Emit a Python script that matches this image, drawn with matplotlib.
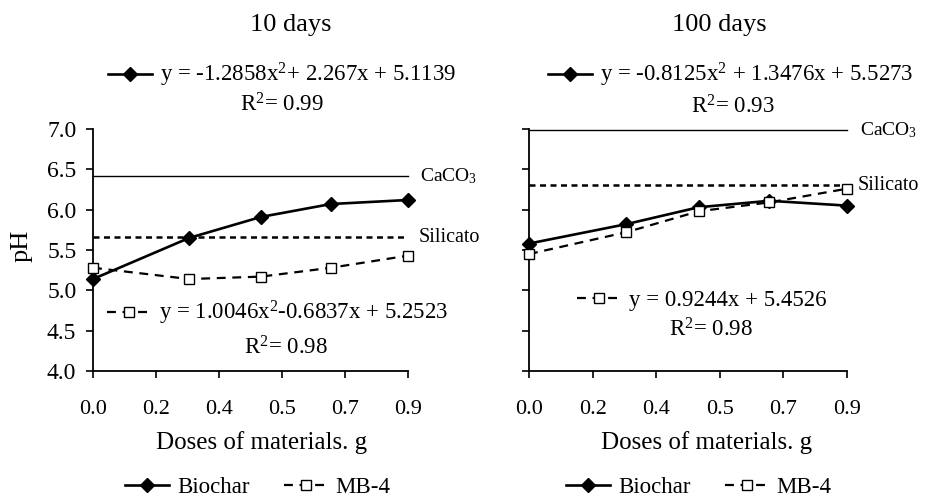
import matplotlib
matplotlib.use("Agg")
import matplotlib.pyplot as plt
from matplotlib.lines import Line2D

plt.rcParams['font.family'] = ['Liberation Serif', 'DejaVu Serif']
plt.rcParams['mathtext.default'] = 'regular'

# data
dose = [0, 0.275, 0.48, 0.68, 0.9]
biochar_10 = [5.14, 5.65, 5.91, 6.07, 6.12]
mb4_10 = [5.28, 5.14, 5.17, 5.28, 5.43]
biochar_100 = [5.58, 5.82, 6.03, 6.11, 6.05]
mb4_100 = [5.45, 5.72, 5.98, 6.09, 6.26]
caco3 = [6.42, 6.99]        # 10 days, 100 days
silicato = [5.66, 6.30]     # 10 days, 100 days
xtick_pos = [0, 0.18, 0.36, 0.54, 0.72, 0.9]
xtick_labels = ['0.0', '0.2', '0.4', '0.5', '0.7', '0.9']
ytick_pos = [4.0, 4.5, 5.0, 5.5, 6.0, 6.5, 7.0]
titles = ['10 days', '100 days']
eq_biochar = ['y = -1.2858x$^2$+ 2.267x + 5.1139', 'y = -0.8125x$^2$ + 1.3476x + 5.5273']
r2_biochar = ['R$^2$= 0.99', 'R$^2$= 0.93']
eq_mb4 = ['y = 1.0046x$^2$-0.6837x + 5.2523', 'y = 0.9244x + 5.4526']
r2_mb4 = ['R$^2$= 0.98', 'R$^2$= 0.98']

W, H = 929, 499
def fx(px):
    return px / W
def fy(py):
    return 1 - py / H

bio_style = dict(color='black', lw=1.9, marker='D', markersize=7, markerfacecolor='black')
mb4_style = dict(color='black', lw=1.6, dashes=(4, 3), marker='s', markersize=6.5,
                 markerfacecolor='white', markeredgecolor='black', markeredgewidth=1)

fig = plt.figure(figsize=(W / 100, H / 100), dpi=100)
ax1 = fig.add_axes([fx(93), fy(371), 315 / W, 242 / H])
ax2 = fig.add_axes([fx(529), fy(371), 318 / W, 242 / H])

panels = [(ax1, biochar_10, mb4_10), (ax2, biochar_100, mb4_100)]
for i, (ax, bio, mb4) in enumerate(panels):
    ax.plot([dose[0], dose[-1]], [caco3[i], caco3[i]], color='black', lw=1.0, clip_on=False)
    ax.plot([dose[0], dose[-1]], [silicato[i], silicato[i]], color='black', lw=1.8,
            dashes=(2.4, 1.8), clip_on=False)
    ax.plot(dose, mb4, clip_on=False, zorder=3, **mb4_style)
    ax.plot(dose, bio, clip_on=False, zorder=2, **bio_style)
    ax.annotate('CaCO$_3$', xy=(dose[-1], caco3[i]), xytext=(9, 0), textcoords='offset points',
                va='center', ha='left', fontsize=14)
    ax.annotate('Silicato', xy=(dose[-1], silicato[i]), xytext=(8, 0), textcoords='offset points',
                va='center', ha='left', fontsize=14.5)

    ax.set_xlim(0, 0.9)
    ax.set_ylim(4.0, 7.0)
    ax.set_xticks(xtick_pos)
    ax.set_xticklabels(xtick_labels)
    ax.set_yticks(ytick_pos)
    ax.set_yticklabels([f'{v:.1f}' for v in ytick_pos] if i == 0 else [])
    ax.tick_params(direction='out', length=5, width=1.2, labelsize=16)
    ax.tick_params(axis='y', labelsize=17, pad=7)
    ax.tick_params(axis='x', pad=16)
    for s in ['top', 'right']:
        ax.spines[s].set_visible(False)
    for s in ['left', 'bottom']:
        ax.spines[s].set_linewidth(1.3)

# titles, axis labels
fig.text(fx(291), fy(25), titles[0], ha='center', va='center', fontsize=19)
fig.text(fx(719), fy(25), titles[1], ha='center', va='center', fontsize=19)
fig.text(fx(22), fy(246), 'pH', ha='center', va='center', rotation=90, fontsize=19)
fig.text(fx(262), fy(443), 'Doses of materials. g', ha='center', va='center', fontsize=18)
fig.text(fx(707), fy(443), 'Doses of materials. g', ha='center', va='center', fontsize=18)

bio_handle = Line2D([], [], **bio_style)
mb4_handle = Line2D([], [], **mb4_style)
leg_kw = dict(frameon=False, borderpad=0, borderaxespad=0, handletextpad=0.35,
              handlelength=1.9, numpoints=1)

# trend equations
eq_pos = [((108, 75), (282, 105), (107, 313), (286, 348)),
          ((548, 75), (733, 107), (577, 300), (711, 330))]
for i, (pb, rb, pm, rm) in enumerate(eq_pos):
    fig.legend([bio_handle], [eq_biochar[i]], loc='center left',
               bbox_to_anchor=(fx(pb[0]), fy(pb[1])), fontsize=16.5, **leg_kw)
    fig.text(fx(rb[0]), fy(rb[1]), r2_biochar[i], ha='center', va='center', fontsize=16.5)
    fig.legend([mb4_handle], [eq_mb4[i]], loc='center left',
               bbox_to_anchor=(fx(pm[0]), fy(pm[1])), fontsize=16.5, **leg_kw)
    fig.text(fx(rm[0]), fy(rm[1]), r2_mb4[i], ha='center', va='center', fontsize=16.5)

# bottom legends
for cx in [258, 699]:
    fig.legend([bio_handle, mb4_handle], ['Biochar', 'MB-4'], loc='center',
               bbox_to_anchor=(fx(cx), fy(487)), ncol=2, columnspacing=1.5,
               fontsize=16.5, **leg_kw)

fig.savefig('out.png', dpi=100)
